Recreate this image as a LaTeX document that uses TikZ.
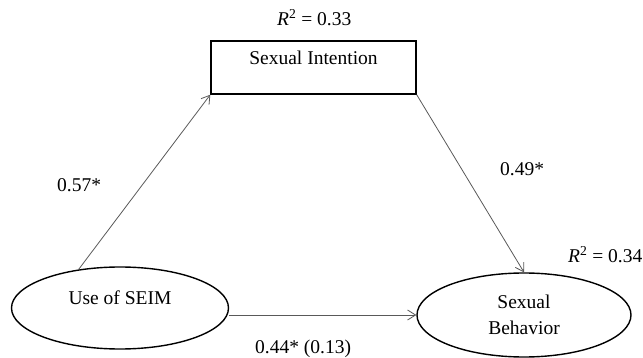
\documentclass[tikz,border=0pt]{standalone}
\usepackage{fontspec}
\setmainfont{Liberation Serif}
\usetikzlibrary{arrows.meta, shapes.geometric}
\colorlet{arrGray}{black!65}
\newcommand{\rsq}[1]{\textit{R}\textsuperscript{2} = #1}

\begin{document}
\begin{tikzpicture}[
  x=1pt, y=-1pt,
  font=\fontsize{19.5}{26}\selectfont,
  construct/.style={draw, line width=1.4pt, ellipse, inner sep=0pt},
  mediator/.style={draw, line width=1.4pt, rectangle, inner sep=0pt,
    minimum width=205pt, text height=24pt, text depth=29pt, anchor=base},
  path/.style={draw=arrGray, line width=0.8pt, -{Straight Barb[length=8pt,width=10pt]}},
  coef/.style={anchor=base west, inner sep=0pt},
]
  \useasboundingbox (0,0) rectangle (643,358);
  \node[mediator] (intent) at (313.5,65) {Sexual Intention};
  \node[construct, minimum width=217pt, minimum height=82pt,
    text height=14pt, text depth=20pt] (seim) at (120,308) {Use of SEIM};
  \node[construct, minimum width=214pt, minimum height=84pt,
    align=center] (behav) at (524,315) {Sexual\\Behavior};
  % paths
  \draw[path] (seim.137) -- (intent.south west);
  \draw[path] (intent.south east) -- (behav.north);
  \draw[path] (behav.west -| seim.east) -- (behav.west);
  % coefficients
  \node[coef] (r2int) at (277,26) {\rsq{0.33}};
  \node[coef] (r2beh) at (568,263) {\rsq{0.34}};
  \node[coef] (ca) at (57,192) {0.57*};
  \node[coef] (cb) at (500,176) {0.49*};
  \node[coef] (cc) at (255,353) {0.44* (0.13)};
\end{tikzpicture}
\end{document}
